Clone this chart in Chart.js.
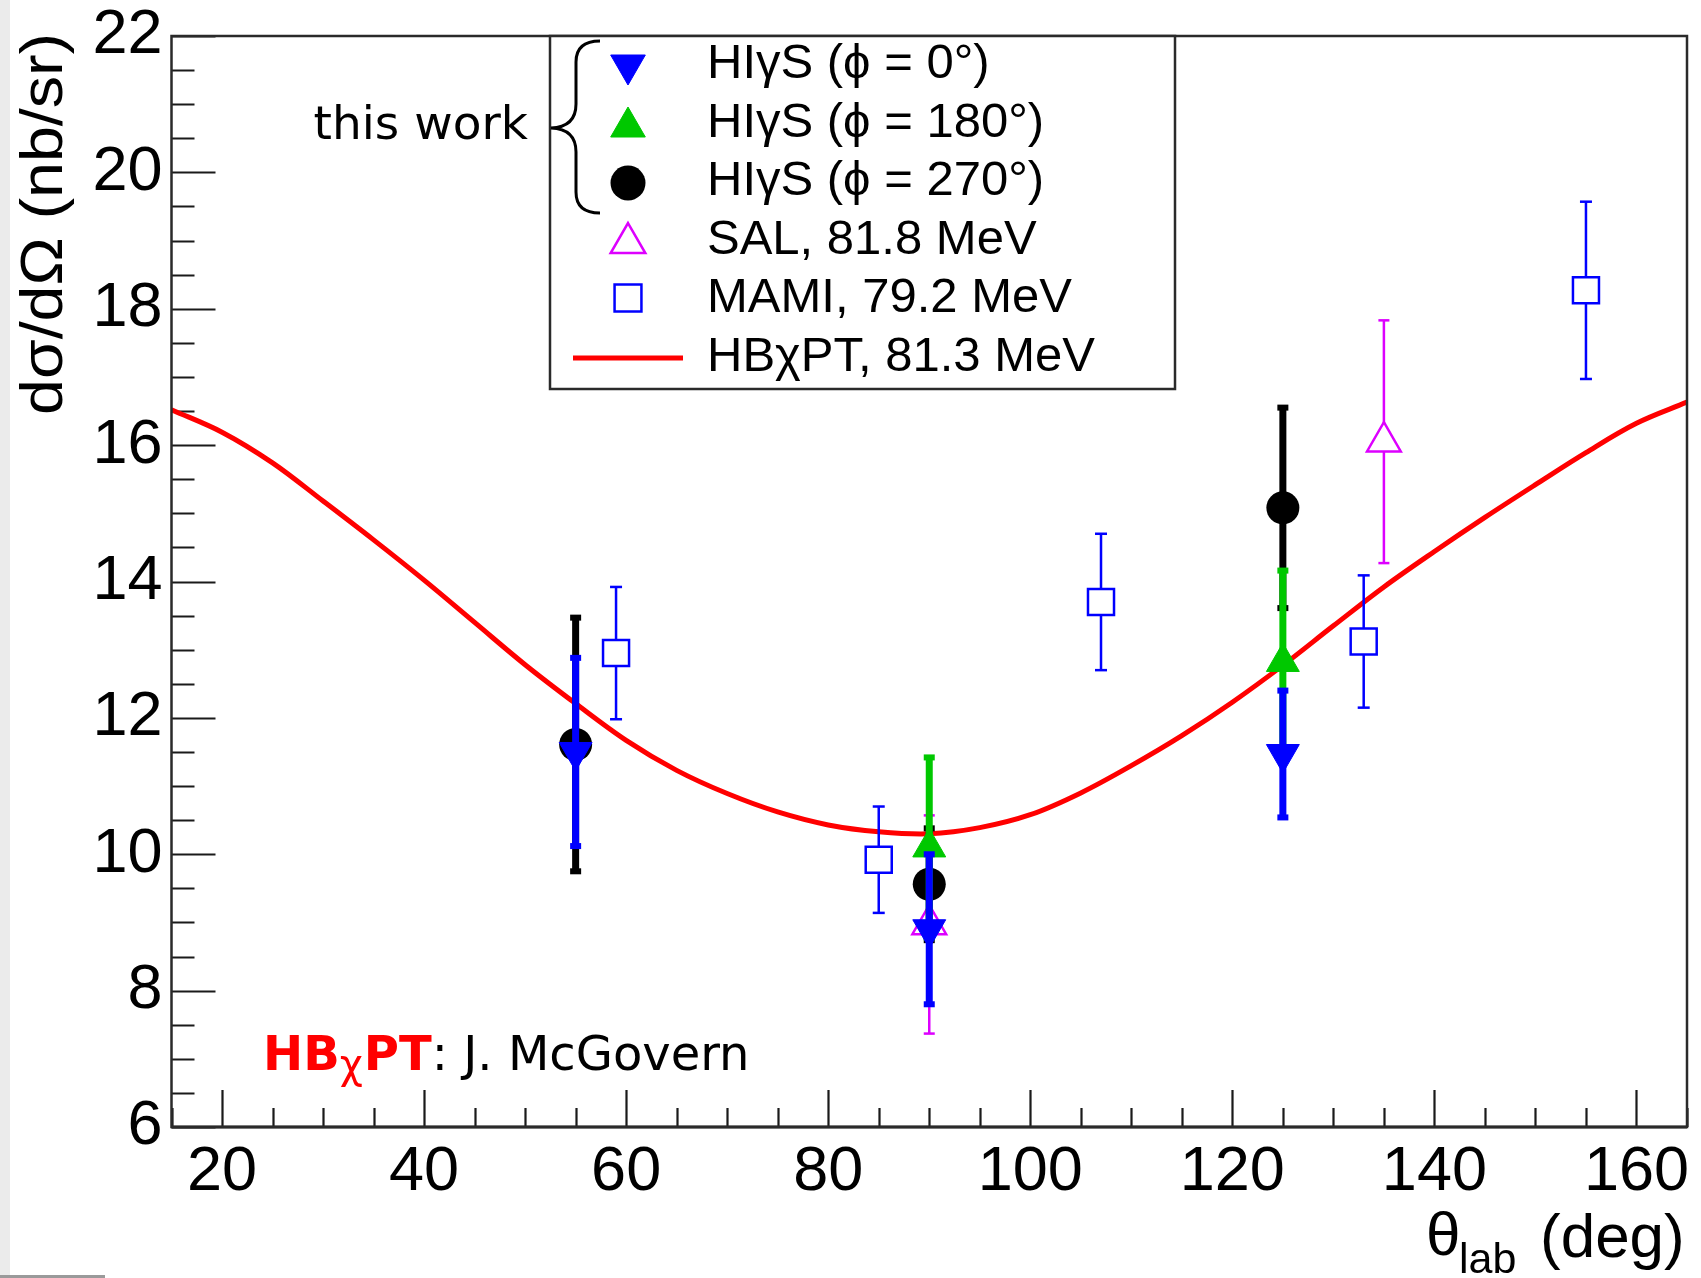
<!DOCTYPE html>
<html>
<head>
<meta charset="utf-8">
<script src="https://cdn.jsdelivr.net/npm/chart.js@4.4.1/dist/chart.umd.min.js"></script>
<style>
  html, body { margin: 0; padding: 0; background: #fff; }
  #wrap { width: 1701px; height: 1278px; }
</style>
</head>
<body>
<div id="wrap"><canvas id="chart" width="1701" height="1278"></canvas></div>
<script>
// HBchiPT curve (81.3 MeV), every 5 deg
const curveTheta = [15, 20, 25, 30, 35, 40, 45, 50, 55, 60, 65, 70, 75, 80, 85, 90,
    95, 100, 105, 110, 115, 120, 125, 130, 135, 140, 145, 150, 155, 160, 165];
const curveXs = [16.52, 16.19, 15.74, 15.18, 14.61, 14.02, 13.40, 12.78, 12.21, 11.67, 11.23,
    10.89, 10.62, 10.43, 10.33, 10.30, 10.39, 10.58, 10.90, 11.30, 11.74, 12.23, 12.77,
    13.35, 13.92, 14.44, 14.94, 15.42, 15.89, 16.32, 16.63];

// HIgS, this work
const phi0Theta = [55, 90, 125];
const phi0Xs = [11.50, 8.90, 11.47];
const phi0Err = [1.38, 1.10, 0.93];

const phi180Theta = [90, 125];
const phi180Xs = [10.10, 12.82];
const phi180Err = [1.32, 1.34];

const phi270Theta = [55, 90, 125];
const phi270Xs = [11.61, 9.56, 15.08];
const phi270Err = [1.86, 0.82, 1.47];

// SAL, 81.8 MeV
const salTheta = [90, 135];
const salXs = [8.97, 16.05];
const salErr = [1.60, 1.78];

// MAMI, 79.2 MeV
const mamiTheta = [59, 85, 107, 133, 155];
const mamiXs = [12.95, 9.92, 13.70, 13.12, 18.27];
const mamiErr = [0.97, 0.78, 1.00, 0.97, 1.30];

const xMajorTicks = [20, 40, 60, 80, 100, 120, 140, 160];
const yMajorTicks = [6, 8, 10, 12, 14, 16, 18, 20, 22];

const legendLabels = ['HIγS (ϕ = 0°)', 'HIγS (ϕ = 180°)', 'HIγS (ϕ = 270°)',
    'SAL, 81.8 MeV', 'MAMI, 79.2 MeV', 'HBχPT, 81.3 MeV'];

const BLUE = '#0000ff';
const GREEN = '#00c800';
const MAGENTA = '#dd00ff';
const RED = '#ff0000';
const SANS = '"Liberation Sans", Arial, sans-serif';
const DEJAVU = '"DejaVu Sans", Verdana, sans-serif';

const toPoints = (xs, ys) => xs.map((x, i) => ({ x, y: ys[i] }));

const isMajor = (v, step) => Math.abs(v / step - Math.round(v / step)) < 1e-6;

function drawMarker(ctx, style, x, y, r, fill, stroke, lw, rot) {
    ctx.save();
    ctx.beginPath();
    if (style === 'circle') {
        ctx.arc(x, y, r, 0, Math.PI * 2);
    } else if (style === 'rect') {
        const s = r * Math.SQRT1_2;
        ctx.rect(x - s, y - s, 2 * s, 2 * s);
    } else {
        [0, 120, 240].forEach((a, k) => {
            const rad = (a + (rot || 0)) * Math.PI / 180;
            const px = x + Math.sin(rad) * r, py = y - Math.cos(rad) * r;
            if (k === 0) ctx.moveTo(px, py); else ctx.lineTo(px, py);
        });
        ctx.closePath();
    }
    ctx.fillStyle = fill;
    ctx.fill();
    if (lw) {
        ctx.lineWidth = lw;
        ctx.strokeStyle = stroke;
        ctx.stroke();
    }
    ctx.restore();
}

const pageBack = {
    id: 'pageBack',
    beforeDraw(chart) {
        const ctx = chart.ctx;
        ctx.save();
        ctx.fillStyle = '#fff';
        ctx.fillRect(0, 0, chart.width, chart.height);
        ctx.fillStyle = '#ebebeb';
        ctx.fillRect(0, 0, 10, chart.height);
        ctx.fillStyle = '#9a9a9a';
        ctx.fillRect(0, 1275, 105, 3);
        ctx.restore();
    }
};

// ROOT-style ticks inside the frame
const rootTicks = {
    id: 'rootTicks',
    beforeDatasetsDraw(chart) {
        const { ctx, chartArea: a, scales: { x, y } } = chart;
        ctx.save();
        ctx.strokeStyle = '#1a1a1a';
        ctx.lineWidth = 2.2;
        ctx.beginPath();
        y.ticks.forEach(t => {
            const py = Math.round(y.getPixelForValue(t.value)) + 0.5;
            const len = isMajor(t.value, 2) ? 44 : 23;
            ctx.moveTo(a.left, py);
            ctx.lineTo(a.left + len, py);
        });
        x.ticks.forEach(t => {
            const px = Math.round(x.getPixelForValue(t.value)) + 0.5;
            const len = isMajor(t.value, 20) ? 37 : 19;
            ctx.moveTo(px, a.bottom);
            ctx.lineTo(px, a.bottom - len);
        });
        ctx.stroke();
        ctx.restore();
    }
};

const errorBars = {
    id: 'errorBars',
    beforeDatasetDraw(chart, args) {
        const ds = chart.data.datasets[args.index];
        if (!ds.errors) return;
        const ctx = chart.ctx;
        const yScale = chart.scales.y;
        ctx.save();
        ctx.fillStyle = ds.errColor;
        args.meta.data.forEach((pt, i) => {
            const v = ds.data[i].y;
            const e = ds.errors[i];
            const top = yScale.getPixelForValue(v + e);
            const bot = yScale.getPixelForValue(v - e);
            ctx.fillRect(pt.x - ds.errWidth / 2, top, ds.errWidth, bot - top);
            ctx.fillRect(pt.x - ds.capWidth / 2, top - ds.capHeight / 2, ds.capWidth, ds.capHeight);
            ctx.fillRect(pt.x - ds.capWidth / 2, bot - ds.capHeight / 2, ds.capWidth, ds.capHeight);
        });
        ctx.restore();
    }
};

const decorations = {
    id: 'decorations',
    afterDatasetsDraw(chart) {
        const { ctx, chartArea: a } = chart;
        ctx.save();

        // frame
        ctx.strokeStyle = '#2a2a2a';
        ctx.lineWidth = 2.5;
        ctx.strokeRect(a.left, a.top, a.right - a.left, a.bottom - a.top);
        ctx.lineWidth = 3;
        ctx.beginPath();
        ctx.moveTo(a.left, a.bottom);
        ctx.lineTo(a.right, a.bottom);
        ctx.stroke();

        // legend box
        const lx = 550, ly = a.top, lw = 625, lh = 353;
        ctx.fillStyle = '#fff';
        ctx.fillRect(lx, ly, lw, lh);
        ctx.lineWidth = 2.5;
        ctx.strokeStyle = '#2a2a2a';
        ctx.strokeRect(lx, ly, lw, lh);

        const rowY = [65, 124, 183, 240, 298, 358];
        const mx = 628;
        drawMarker(ctx, 'triangle', mx, rowY[0], 20, BLUE, BLUE, 1, 180);
        drawMarker(ctx, 'triangle', mx, rowY[1] + 3, 20, GREEN, GREEN, 1, 0);
        drawMarker(ctx, 'circle', mx, rowY[2], 17.5, '#000', '#000', 0);
        drawMarker(ctx, 'triangle', mx, rowY[3] + 3, 20, '#fff', MAGENTA, 2.5, 0);
        drawMarker(ctx, 'rect', mx, rowY[4], 19, '#fff', BLUE, 2.5);
        ctx.fillStyle = RED;
        ctx.fillRect(573, rowY[5] - 2.5, 110, 5);

        ctx.fillStyle = '#000';
        ctx.font = '49px ' + SANS;
        ctx.textAlign = 'left';
        ctx.textBaseline = 'alphabetic';
        legendLabels.forEach((t, i) => ctx.fillText(t, 707, 78 + i * 58.6));

        // brace for "this work"
        ctx.strokeStyle = '#000';
        ctx.lineWidth = 3;
        ctx.beginPath();
        ctx.moveTo(600, 41);
        ctx.quadraticCurveTo(576, 41, 576, 62);
        ctx.lineTo(576, 104);
        ctx.quadraticCurveTo(576, 127, 551, 128);
        ctx.quadraticCurveTo(576, 129, 576, 152);
        ctx.lineTo(576, 192);
        ctx.quadraticCurveTo(576, 213, 600, 213);
        ctx.stroke();

        ctx.font = '47px ' + DEJAVU;
        ctx.textAlign = 'right';
        ctx.fillText('this work', 528, 139);

        // theory credit
        ctx.textAlign = 'left';
        let tx = 263;
        const by = 1070;
        ctx.fillStyle = RED;
        ctx.font = 'bold 48px ' + DEJAVU;
        ctx.fillText('HB', tx, by);
        tx += ctx.measureText('HB').width;
        ctx.font = '40px ' + DEJAVU;
        ctx.fillText('χ', tx, by + 8);
        tx += ctx.measureText('χ').width + 1;
        ctx.font = 'bold 48px ' + DEJAVU;
        ctx.fillText('PT', tx, by);
        tx += ctx.measureText('PT').width;
        ctx.fillStyle = '#000';
        ctx.font = '48px ' + DEJAVU;
        ctx.fillText(': J. McGovern', tx, by);

        // x axis title
        ctx.font = '62px ' + SANS;
        ctx.fillText('θ', 1426, 1255);
        ctx.fillText('(deg)', 1540, 1257);
        ctx.font = '43px ' + SANS;
        ctx.fillText('lab', 1459, 1273);

        // y axis title
        ctx.translate(62, 33);
        ctx.rotate(-Math.PI / 2);
        ctx.font = '60px ' + SANS;
        ctx.textAlign = 'right';
        const yt = 'dσ/dΩ (nb/sr)';
        const w = ctx.measureText(yt).width;
        ctx.scale(382 / w, 1);
        ctx.fillText(yt, 0, 0);

        ctx.restore();
    }
};

new Chart(document.getElementById('chart'), {
    type: 'scatter',
    data: {
        datasets: [
            {
                label: legendLabels[0], order: 0,
                data: toPoints(phi0Theta, phi0Xs), errors: phi0Err,
                errColor: BLUE, errWidth: 7, capWidth: 11, capHeight: 6,
                pointStyle: 'triangle', pointRotation: 180, pointRadius: 19,
                backgroundColor: BLUE, borderColor: BLUE, borderWidth: 1
            },
            {
                label: legendLabels[1], order: 1,
                data: toPoints(phi180Theta, phi180Xs), errors: phi180Err,
                errColor: GREEN, errWidth: 7, capWidth: 11, capHeight: 6,
                pointStyle: 'triangle', pointRadius: 19,
                backgroundColor: GREEN, borderColor: GREEN, borderWidth: 1
            },
            {
                label: legendLabels[2], order: 2,
                data: toPoints(phi270Theta, phi270Xs), errors: phi270Err,
                errColor: '#000', errWidth: 7, capWidth: 11, capHeight: 6,
                pointStyle: 'circle', pointRadius: 16.5,
                backgroundColor: '#000', borderColor: '#000', borderWidth: 0
            },
            {
                label: legendLabels[3], order: 3,
                data: toPoints(salTheta, salXs), errors: salErr,
                errColor: MAGENTA, errWidth: 2.5, capWidth: 11, capHeight: 2.5,
                pointStyle: 'triangle', pointRadius: 19.5,
                backgroundColor: '#fff', borderColor: MAGENTA, borderWidth: 2.5
            },
            {
                label: legendLabels[4], order: 4,
                data: toPoints(mamiTheta, mamiXs), errors: mamiErr,
                errColor: BLUE, errWidth: 2.5, capWidth: 12, capHeight: 2.5,
                pointStyle: 'rect', pointRadius: 18.4,
                backgroundColor: '#fff', borderColor: BLUE, borderWidth: 2.5
            },
            {
                label: legendLabels[5], order: 5,
                data: toPoints(curveTheta, curveXs),
                showLine: true, pointRadius: 0, borderColor: RED, borderWidth: 5,
                tension: 0.35
            }
        ]
    },
    options: {
        responsive: false,
        animation: false,
        events: [],
        layout: { autoPadding: false, padding: { left: 0, right: 14, top: 36, bottom: 0 } },
        plugins: { legend: { display: false }, tooltip: { enabled: false } },
        scales: {
            x: {
                type: 'linear', min: 15, max: 165,
                grid: { display: false }, border: { display: false },
                ticks: {
                    stepSize: 5, autoSkip: false, maxRotation: 0, padding: 0,
                    color: '#000', font: { family: SANS, size: 63 },
                    callback: v => xMajorTicks.includes(v) ? String(v) : ''
                },
                afterFit: s => { s.height = 151; s.paddingLeft = 0; s.paddingRight = 0; }
            },
            y: {
                type: 'linear', min: 6, max: 22,
                grid: { display: false }, border: { display: false },
                ticks: {
                    stepSize: 0.5, autoSkip: false, maxTicksLimit: 100, padding: 1,
                    color: '#000', font: { family: SANS, size: 63 },
                    callback: v => yMajorTicks.includes(v) ? String(v) : ''
                },
                afterFit: s => { s.width = 171.5; s.paddingTop = 0; s.paddingBottom = 0; }
            }
        }
    },
    plugins: [pageBack, rootTicks, errorBars, decorations]
});
</script>
</body>
</html>
